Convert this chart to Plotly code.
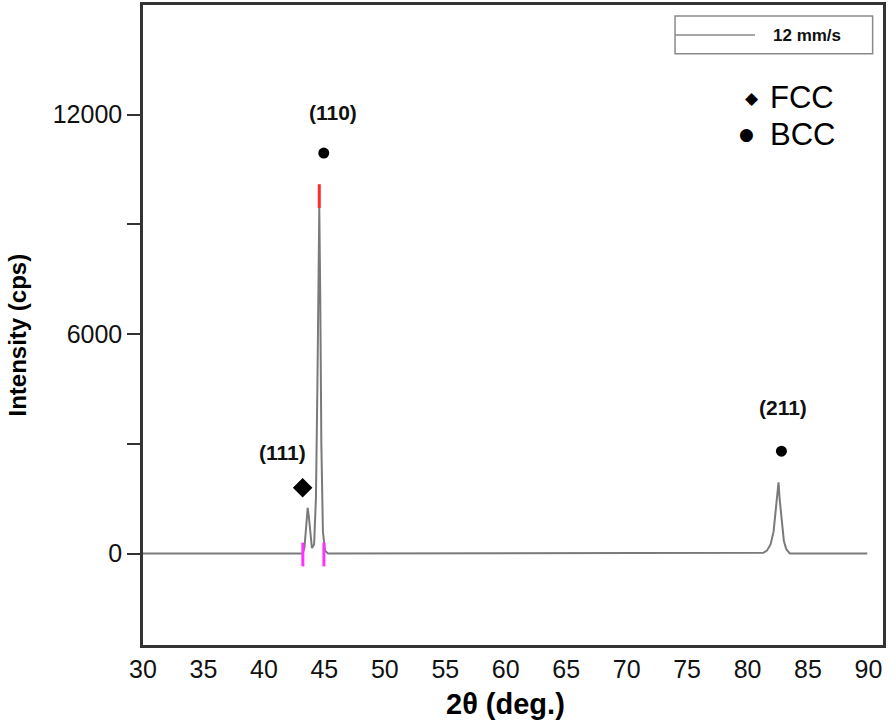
import plotly.graph_objects as go

# --- data ---
two_theta = [30.0, 43.20, 43.35, 43.50, 43.62, 43.72, 43.85, 43.97, 44.15, 44.30,
             44.42, 44.50, 44.58, 44.66, 44.75, 44.88, 45.05, 45.30,
             80.90, 81.30, 81.60, 81.90, 82.15, 82.35, 82.48, 82.56, 82.65,
             82.75, 82.85, 83.00, 83.20, 83.50, 89.90]
intensity = [0, 0, 150, 700, 1250, 1000, 450, 150, 250, 1500,
             4500, 7500, 9450, 7000, 3000, 600, 80, 0,
             0, 20, 80, 250, 600, 1200, 1700, 1950, 1500,
             1100, 800, 350, 120, 0, 0]

ref_red_x = [44.58]
ref_red_lo = [9450]
ref_red_hi = [10100]
ref_mag_x = [43.22, 44.96]
ref_mag_lo = [-350, -350]
ref_mag_hi = [300, 300]

fcc_x = [43.2]
fcc_y = [1800]
bcc_x = [44.95, 82.8]
bcc_y = [10950, 2800]

peak_labels = ["(111)", "(110)", "(211)"]
label_x = [41.5, 45.7, 82.9]
label_y = [2770, 12050, 3990]

y_tickvals = [0, 3000, 6000, 9000, 12000]
y_ticktext = ["0", "", "6000", "", "12000"]
x_tickvals = list(range(30, 95, 5))

fig = go.Figure()

fig.add_trace(go.Scatter(x=two_theta, y=intensity, mode="lines",
                         line=dict(color="#7a7a7a", width=2), showlegend=False))

for x, lo, hi in zip(ref_red_x, ref_red_lo, ref_red_hi):
    fig.add_trace(go.Scatter(x=[x, x], y=[lo, hi], mode="lines",
                             line=dict(color="#ff2a2a", width=3), showlegend=False))
for x, lo, hi in zip(ref_mag_x, ref_mag_lo, ref_mag_hi):
    fig.add_trace(go.Scatter(x=[x, x], y=[lo, hi], mode="lines",
                             line=dict(color="#ff33ff", width=3), showlegend=False))

fig.add_trace(go.Scatter(x=fcc_x, y=fcc_y, mode="markers",
                         marker=dict(symbol="diamond", size=15, color="black"),
                         showlegend=False))
fig.add_trace(go.Scatter(x=bcc_x, y=bcc_y, mode="markers",
                         marker=dict(symbol="circle", size=11, color="black"),
                         showlegend=False))

for t, x, y in zip(peak_labels, label_x, label_y):
    fig.add_annotation(x=x, y=y, text="<b>%s</b>" % t, showarrow=False,
                       xanchor="center", yanchor="middle",
                       font=dict(family="Liberation Sans", size=21, color="#111"))

# legend box (manual)
fig.add_shape(type="rect", xref="paper", yref="paper", x0=0.719, x1=0.986,
              y0=0.924, y1=0.983, line=dict(color="#8a8a8a", width=1.5))
fig.add_shape(type="line", xref="paper", yref="paper", x0=0.719, x1=0.827,
              y0=0.953, y1=0.953, line=dict(color="#8a8a8a", width=1.5))
fig.add_annotation(xref="paper", yref="paper", x=0.897, y=0.953, text="<b>12 mm/s</b>",
                   showarrow=False, xanchor="center", yanchor="middle",
                   font=dict(family="Liberation Sans", size=17, color="#111"))

fig.add_annotation(xref="paper", yref="paper", x=0.823, y=0.855, text="◆",
                   showarrow=False, xanchor="center", yanchor="middle",
                   font=dict(family="DejaVu Sans", size=17, color="black"))
fig.add_annotation(xref="paper", yref="paper", x=0.845, y=0.855, text="FCC", xanchor="left",
                   yanchor="middle", showarrow=False,
                   font=dict(family="Liberation Sans", size=31, color="black"))
fig.add_annotation(xref="paper", yref="paper", x=0.816, y=0.798, text="●",
                   showarrow=False, xanchor="center", yanchor="middle",
                   font=dict(family="DejaVu Sans", size=17, color="black"))
fig.add_annotation(xref="paper", yref="paper", x=0.845, y=0.798, text="BCC", xanchor="left",
                   yanchor="middle", showarrow=False,
                   font=dict(family="Liberation Sans", size=31, color="black"))

# axis titles
fig.add_annotation(xref="paper", yref="paper", x=0.49, y=-0.092, text="<b>2θ (deg.)</b>",
                   showarrow=False, xanchor="center", yanchor="middle",
                   font=dict(family="Liberation Sans", size=29, color="black"))
fig.add_annotation(xref="paper", yref="paper", x=-0.169, y=0.485, text="<b>Intensity (cps)</b>",
                   showarrow=False, textangle=-90, xanchor="center", yanchor="middle",
                   font=dict(family="Liberation Sans", size=24, color="black"))

fig.update_xaxes(range=[30, 91.2], tickvals=x_tickvals, ticks="", showgrid=False,
                 zeroline=False, showline=True, linecolor="#333", linewidth=2.5, mirror=True,
                 tickfont=dict(family="Liberation Sans", size=25, color="#111"))
fig.update_yaxes(range=[-2500, 15000], tickvals=y_tickvals, ticktext=y_ticktext,
                 ticks="outside", ticklen=13, tickwidth=2, tickcolor="#333",
                 showgrid=False, zeroline=False, showline=True, linecolor="#333",
                 linewidth=2.5, mirror=True,
                 tickfont=dict(family="Liberation Sans", size=25, color="#111"))

fig.update_layout(width=896, height=725, margin=dict(l=143, r=13, t=2, b=80),
                  plot_bgcolor="white", paper_bgcolor="white")

fig.write_html("out.html", config={"displayModeBar": False},
               post_script="document.body.style.margin='0';")
